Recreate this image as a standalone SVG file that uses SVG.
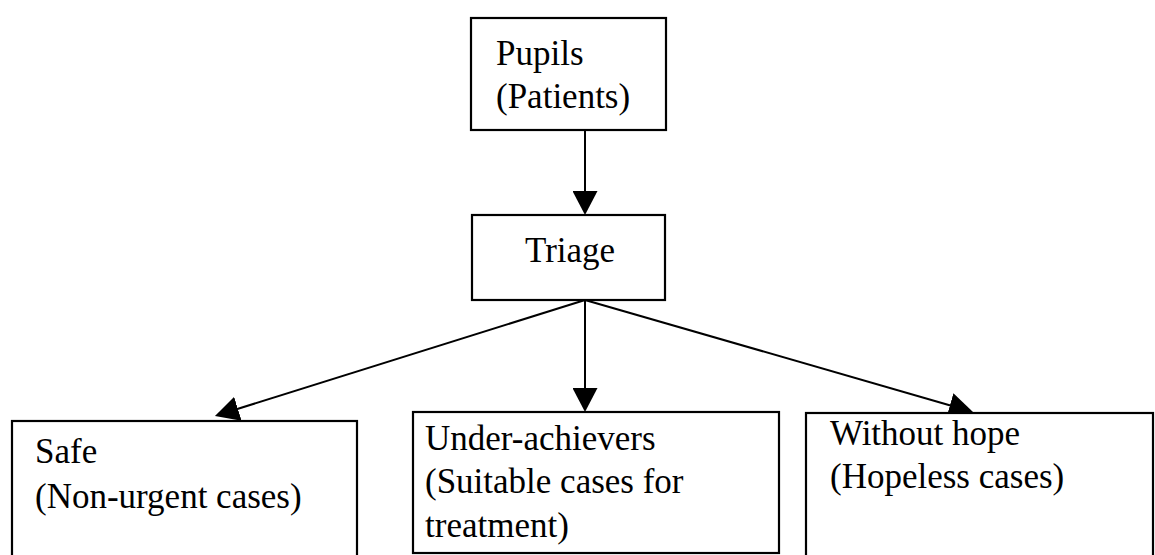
<svg xmlns="http://www.w3.org/2000/svg" width="1155" height="555" viewBox="0 0 1155 555">
  <style>
    .box { fill: #ffffff; stroke: #000000; stroke-width: 2.2; }
    .label { font-family: "Liberation Serif", "Times New Roman", serif; font-size: 35px; fill: #000000; }
    .edge { stroke: #000000; stroke-width: 2; fill: none; marker-end: url(#arrow); }
  </style>
  <defs>
    <marker id="arrow" markerUnits="userSpaceOnUse" markerWidth="24" markerHeight="25" refX="14" refY="12.5" orient="auto">
      <path d="M0,0 L24,12.5 L0,25 Z" fill="#000000"/>
    </marker>
  </defs>

  <rect width="1155" height="555" fill="#ffffff"/>

  <!-- connectors -->
  <g id="connectors">
    <line class="edge" x1="585" y1="130" x2="585" y2="205"/>
    <line class="edge" x1="585" y1="300" x2="224.5" y2="413"/>
    <line class="edge" x1="585" y1="300" x2="585" y2="402"/>
    <line class="edge" x1="585" y1="300" x2="963.4" y2="409.2"/>
  </g>

  <!-- nodes -->
  <g id="pupils">
    <rect class="box" x="471" y="18" width="195" height="112"/>
    <text class="label" x="496" y="65">Pupils</text>
    <text class="label" x="496" y="108">(Patients)</text>
  </g>

  <g id="triage">
    <rect class="box" x="472" y="215" width="193" height="85"/>
    <text class="label" x="525" y="262">Triage</text>
  </g>

  <g id="safe">
    <rect class="box" x="12" y="421" width="345" height="150"/>
    <text class="label" x="35" y="463">Safe</text>
    <text class="label" x="35" y="508">(Non-urgent cases)</text>
  </g>

  <g id="under-achievers">
    <rect class="box" x="413" y="412" width="366" height="141"/>
    <text class="label" x="425" y="450">Under-achievers</text>
    <text class="label" x="425" y="493">(Suitable cases for</text>
    <text class="label" x="425" y="537">treatment)</text>
  </g>

  <g id="without-hope">
    <rect class="box" x="806" y="413" width="347" height="160"/>
    <text class="label" x="830" y="445">Without hope</text>
    <text class="label" x="830" y="488">(Hopeless cases)</text>
  </g>
</svg>
